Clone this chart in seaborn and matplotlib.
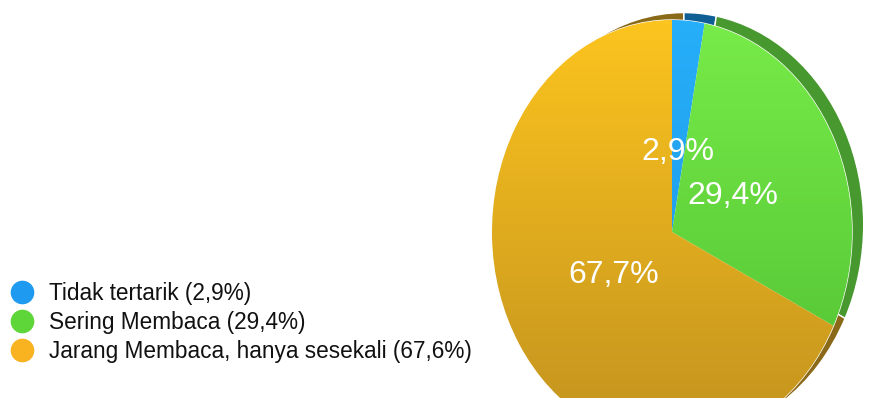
import numpy as np
import matplotlib
matplotlib.use("Agg")
import matplotlib.pyplot as plt
import seaborn as sns
from matplotlib.lines import Line2D
from matplotlib.colors import LinearSegmentedColormap

categories = ["Tidak tertarik", "Sering Membaca", "Jarang Membaca, hanya sesekali"]
values = [2.9, 29.4, 67.7]
legend_pcts = ["2,9%", "29,4%", "67,6%"]
top_colors = ["#27b0fb", "#7aee4a", "#ffc71e"]
bottom_colors = ["#1c92e0", "#4cbc30", "#bf8f1f"]
rim_colors = ["#0f5f95", "#47982e", "#8a6a18"]
legend_colors = ["#1e9bf0", "#5ed63a", "#f9b320"]

sns.set_theme(style="white")
plt.rcParams["font.family"] = ["Liberation Sans", "DejaVu Sans"]

W, H = 873, 398
fig = plt.figure(figsize=(W / 100, H / 100), dpi=100)

# pie drawn as an ellipse: axes box given in pixels
cx, cy, rx, ry = 672, 232, 180, 212
ax = fig.add_axes([(cx - rx) / W, (H - cy - ry) / H, 2 * rx / W, 2 * ry / H])

# dark rim behind, shifted up-right
rim, _ = ax.pie(values, colors=rim_colors, startangle=90, counterclock=False,
                center=(0.065, 0.035), radius=1.0, frame=True)
wedges, texts, autotexts = ax.pie(
    values, colors=[sns.blend_palette([t, b], 3)[1] for t, b in zip(top_colors, bottom_colors)],
    startangle=90, counterclock=False, radius=1.0, frame=True,
    autopct=lambda p: f"{p:.1f}%".replace(".", ","), pctdistance=0.38,
    textprops=dict(color="white", fontsize=23))

# vertical shading on each slice
grad = np.linspace(0, 1, 256).reshape(-1, 1)
for w, t, b in zip(wedges, top_colors, bottom_colors):
    cmap = LinearSegmentedColormap.from_list("g", [t, b])
    im = ax.imshow(grad, cmap=cmap, extent=(-1.1, 1.1, -1.1, 1.1), aspect="auto",
                   origin="upper", zorder=w.get_zorder() + 0.1)
    im.set_clip_path(w)
for t in autotexts:
    t.set_zorder(5)

for p in list(rim) + list(wedges):
    p.set_clip_on(False)
ax.set_aspect("auto")
ax.set_xlim(-1, 1)
ax.set_ylim(-1, 1)
ax.axis("off")

handles = [Line2D([], [], marker="o", linestyle="none", markersize=16,
                  markerfacecolor=c, markeredgecolor=c) for c in legend_colors]
labels = [f"{c} ({p})" for c, p in zip(categories, legend_pcts)]
leg = fig.legend(handles, labels, loc="upper left", bbox_to_anchor=(4 / W, 1 - 273 / H),
                 frameon=False, fontsize=16.3, handlelength=0.8, handletextpad=0.8,
                 labelspacing=0.26, borderaxespad=0)
for t in leg.get_texts():
    t.set_color("#111111")

fig.savefig("out.png", dpi=100)
